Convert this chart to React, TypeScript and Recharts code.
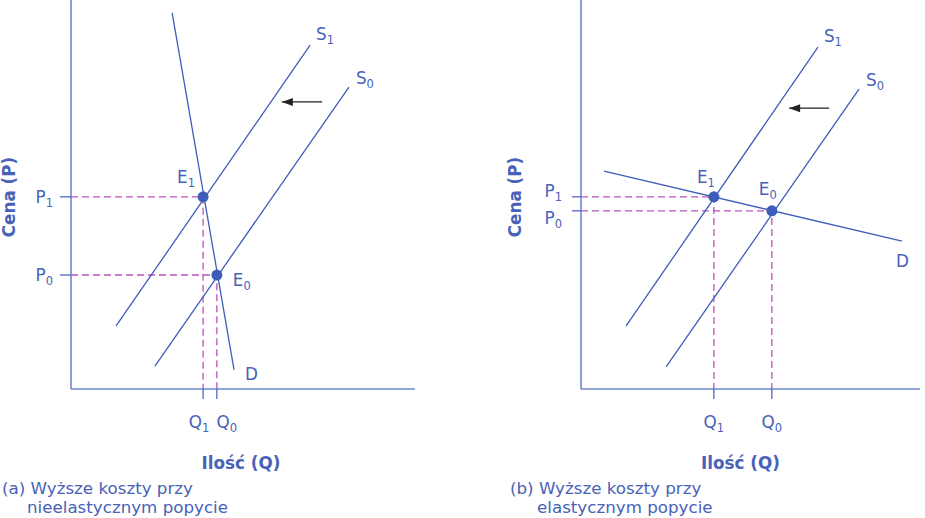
import React from "react"
import { LineChart, Line, XAxis, YAxis, ReferenceDot, Label } from "recharts"

type Pt = { x: number; y: number }

// panel (a): inelastic demand
const demandA: Pt[] = [{ x: 2.94, y: 9.67 }, { x: 4.74, y: 0.49 }]
const supply1A: Pt[] = [{ x: 1.31, y: 1.62 }, { x: 6.95, y: 8.84 }]
const supply0A: Pt[] = [{ x: 2.44, y: 0.59 }, { x: 8.08, y: 7.76 }]
const eq1A: Pt = { x: 3.84, y: 4.94 }
const eq0A: Pt = { x: 4.24, y: 2.93 }
const arrowA: Pt[] = [{ x: 7.3, y: 7.38 }, { x: 6.13, y: 7.38 }]

// panel (b): elastic demand
const demandB: Pt[] = [{ x: 0.68, y: 5.6 }, { x: 9.47, y: 3.8 }]
const supply1B: Pt[] = [{ x: 1.33, y: 1.62 }, { x: 6.99, y: 8.79 }]
const supply0B: Pt[] = [{ x: 2.51, y: 0.57 }, { x: 8.2, y: 7.71 }]
const eq1B: Pt = { x: 3.92, y: 4.94 }
const eq0B: Pt = { x: 5.63, y: 4.58 }
const arrowB: Pt[] = [{ x: 7.32, y: 7.22 }, { x: 6.14, y: 7.22 }]

const FONT = "'DejaVu Sans', Verdana, sans-serif"
const FS = 16.8
const TEXT = "#4862b8"
const LINE = "#3e5dbb"
const AXIS = "#6d88c9"
const DASH = "#bf50bf"

function SubText({ x, y, main, sub, anchor = "start" }: any) {
  return (
    <text x={x} y={y} textAnchor={anchor} fill={TEXT} fontSize={FS} fontFamily={FONT}>
      {main}
      <tspan fontSize={11.5} dy={4}>{sub}</tspan>
    </text>
  )
}

const guide = (e: Pt): Pt[] => [{ x: 0, y: e.y }, { x: e.x, y: e.y }, { x: e.x, y: 0 }]

function endLabel(text: string, sub: string, dx: number, dy: number, last: number) {
  return (p: any) =>
    p.index === last ? (
      <SubText key={text + sub} x={p.x + dx} y={p.y + dy} main={text} sub={sub} />
    ) : (
      <g key={p.index} />
    )
}

function arrowHead(p: any) {
  if (p.index !== 1) return <g key={p.index} />
  const { cx, cy } = p
  return <polygon key="head" points={`${cx},${cy} ${cx + 11},${cy - 4} ${cx + 11},${cy + 4}`} fill="#222" />
}

function Panel(props: any) {
  const { left, yw, mr, demand, s1, s0, e1, e0, arrow, o } = props
  return (
    <div style={{ position: "absolute", left, top: 0 }}>
      <LineChart width={430} height={480} margin={{ top: 0, right: mr, bottom: 0, left: 0 }}>
        <XAxis
          type="number"
          dataKey="x"
          domain={[0, 10]}
          ticks={[e1.x, e0.x]}
          interval={0}
          allowDataOverflow
          height={91}
          tickSize={10}
          tickMargin={0}
          axisLine={{ stroke: AXIS, strokeWidth: 1.6 }}
          tickLine={{ stroke: LINE, strokeWidth: 1.2 }}
          tick={(t: any) => {
            const isOne = t.payload.value === e1.x
            return (
              <SubText
                key={t.index}
                x={t.x + (isOne ? o.q1dx : o.q0dx)}
                y={t.y + 29}
                main="Q"
                sub={isOne ? "1" : "0"}
                anchor="middle"
              />
            )
          }}
        >
          <Label
            content={(l: any) => (
              <text
                x={l.viewBox.x + l.viewBox.width / 2 + o.xdx}
                y={l.viewBox.y + 80}
                textAnchor="middle"
                fill={TEXT}
                fontSize={FS}
                fontWeight="bold"
                fontFamily={FONT}
              >
                Ilość (Q)
              </text>
            )}
          />
        </XAxis>
        <YAxis
          type="number"
          dataKey="y"
          domain={[0, 10]}
          ticks={[e0.y, e1.y]}
          interval={0}
          allowDataOverflow
          width={yw}
          tickSize={o.ts}
          tickMargin={0}
          axisLine={{ stroke: AXIS, strokeWidth: 1.6 }}
          tickLine={{ stroke: LINE, strokeWidth: 1.2 }}
          tick={(t: any) => {
            const isOne = t.payload.value === e1.y
            return (
              <SubText
                key={t.index}
                x={t.x - o.pgap}
                y={t.y + 6 + (isOne ? o.p1dy : o.p0dy)}
                main="P"
                sub={isOne ? "1" : "0"}
                anchor="end"
              />
            )
          }}
        >
          <Label
            content={(l: any) => {
              const cx = l.viewBox.x + o.cena
              const cy = 197
              return (
                <text
                  x={cx}
                  y={cy}
                  transform={`rotate(-90, ${cx}, ${cy})`}
                  textAnchor="middle"
                  dominantBaseline="central"
                  fill={TEXT}
                  fontSize={FS}
                  fontWeight="bold"
                  fontFamily={FONT}
                >
                  Cena (P)
                </text>
              )
            }}
          />
        </YAxis>
        <Line data={guide(e1)} dataKey="y" stroke={DASH} strokeWidth={1.3} strokeDasharray="7 4" dot={false} isAnimationActive={false} />
        <Line data={guide(e0)} dataKey="y" stroke={DASH} strokeWidth={1.3} strokeDasharray="7 4" dot={false} isAnimationActive={false} />
        <Line data={demand} dataKey="y" stroke={LINE} strokeWidth={1.3} dot={false} isAnimationActive={false} label={endLabel("D", "", o.d[0], o.d[1], 1)} />
        <Line data={s1} dataKey="y" stroke={LINE} strokeWidth={1.3} dot={false} isAnimationActive={false} label={endLabel("S", "1", 6, -5, 1)} />
        <Line data={s0} dataKey="y" stroke={LINE} strokeWidth={1.3} dot={false} isAnimationActive={false} label={endLabel("S", "0", 7, -3, 1)} />
        <Line data={arrow} dataKey="y" stroke="#222" strokeWidth={1.3} dot={arrowHead} isAnimationActive={false} />
        <ReferenceDot x={e1.x} y={e1.y} r={5.5} fill={LINE} stroke="none"
          label={(l: any) => <SubText x={l.viewBox.x + l.viewBox.width / 2 + o.e1[0]} y={l.viewBox.y + l.viewBox.height / 2 + o.e1[1]} main="E" sub="1" />} />
        <ReferenceDot x={e0.x} y={e0.y} r={5.5} fill={LINE} stroke="none"
          label={(l: any) => <SubText x={l.viewBox.x + l.viewBox.width / 2 + o.e0[0]} y={l.viewBox.y + l.viewBox.height / 2 + o.e0[1]} main="E" sub="0" />} />
      </LineChart>
    </div>
  )
}

const caption: React.CSSProperties = {
  position: "absolute",
  top: 479,
  fontFamily: FONT,
  fontSize: 16.7,
  lineHeight: "19px",
  color: TEXT,
  whiteSpace: "nowrap",
}

export default function App() {
  return (
    <div style={{ position: "absolute", left: 0, top: 0, width: 925, height: 518, background: "#fff" }}>
      <Panel
        left={0}
        yw={71}
        mr={15}
        demand={demandA}
        s1={supply1A}
        s0={supply0A}
        e1={eq1A}
        e0={eq0A}
        arrow={arrowA}
        o={{ q1dx: -4, q0dx: 10, xdx: -2, ts: 11, pgap: 7, p1dy: 0, p0dy: 0, cena: 9, d: [11, 10], e1: [-26, -14], e0: [16, 11] }}
      />
      <Panel
        left={500}
        yw={81}
        mr={10}
        demand={demandB}
        s1={supply1B}
        s0={supply0B}
        e1={eq1B}
        e0={eq0B}
        arrow={arrowB}
        o={{ q1dx: 0, q0dx: 0, xdx: -10, ts: 9, pgap: 10, p1dy: -6, p0dy: 7, cena: 15, d: [-6, 26], e1: [-17, -14], e0: [-13, -16] }}
      />
      <div style={{ ...caption, left: 2 }}>
        (a) Wyższe koszty przy
        <div style={{ paddingLeft: 25 }}>nieelastycznym popycie</div>
      </div>
      <div style={{ ...caption, left: 510 }}>
        (b) Wyższe koszty przy
        <div style={{ paddingLeft: 27 }}>elastycznym popycie</div>
      </div>
    </div>
  )
}
